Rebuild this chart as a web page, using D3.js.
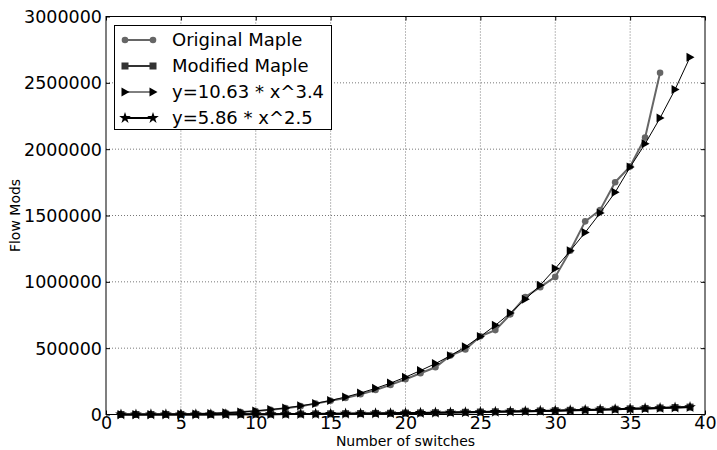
<!DOCTYPE html>
<html>
<head>
<meta charset="utf-8">
<script src="https://cdn.jsdelivr.net/npm/d3@7"></script>
<style>
  html, body { margin: 0; padding: 0; background: #fff; }
  svg { display: block; font-family: "DejaVu Sans", sans-serif; }
</style>
</head>
<body>
<svg id="chart" width="717" height="450"></svg>
<script>
// Number of switches in the topology
const switches = [1, 2, 3, 4, 5, 6, 7, 8, 9, 10, 11, 12, 13, 14, 15, 16, 17, 18, 19, 20,
  21, 22, 23, 24, 25, 26, 27, 28, 29, 30, 31, 32, 33, 34, 35, 36, 37, 38, 39];

// Measured flow mods, original Maple (runs up to 37 switches)
const originalMaple = [0, 100, 400, 1200, 2500, 4700, 7900, 12500, 18000, 26000,
  36000, 48000, 63000, 82000, 104000, 125000, 153000, 185000, 223000, 266000,
  311000, 356000, 445000, 490000, 590000, 636000, 755000, 886000, 960000, 1037000,
  1234000, 1456000, 1542000, 1751000, 1870000, 2087000, 2576000];

// Measured flow mods, modified Maple
const modifiedMaple = [10, 40, 100, 200, 350, 530, 780, 1100, 1450, 1900,
  2400, 2950, 3600, 4350, 5150, 6050, 7050, 8100, 9300, 10550,
  11900, 13400, 14950, 16600, 18400, 20300, 22300, 24400, 26650, 29000,
  31450, 34050, 36750, 39600, 42550, 45650, 48900, 52250, 55750];

// Fitted curve y = 10.63 * x^3.4
const fitCubic = [11, 112, 445, 1185, 2529, 4702, 7943, 12504, 18662, 26701,
  36929, 49633, 65141, 83786, 105950, 131993, 162182, 196942, 236592, 281695,
  331000, 384000, 443000, 510000, 588000, 672000, 765000, 868000, 975000, 1100000,
  1234000, 1372000, 1519000, 1675000, 1865000, 2040000, 2235000, 2450000, 2693000];

// Fitted curve y = 5.86 * x^2.5
const fitSquare = [6, 33, 91, 188, 328, 517, 760, 1061, 1424, 1853,
  2352, 2923, 3571, 4298, 5106, 6001, 6983, 8055, 9221, 10483,
  11843, 13303, 14867, 16536, 18313, 20199, 22198, 24310, 26539, 28887,
  31355, 33945, 36659, 39499, 42469, 45567, 48796, 52164, 55661];

const xTicks = [0, 5, 10, 15, 20, 25, 30, 35, 40];
const yTicks = [0, 500000, 1000000, 1500000, 2000000, 2500000, 3000000];

const seriesNames = ["Original Maple", "Modified Maple", "y=10.63 * x^3.4", "y=5.86 * x^2.5"];

const svg = d3.select("#chart");
const L = 106, R = 705, T = 16.5, B = 414.5;

const x = d3.scaleLinear().domain([0, 40]).range([L, R]);
const y = d3.scaleLinear().domain([0, 3000000]).range([B, T]);

// grid
const grid = svg.append("g").attr("class", "grid");
grid.selectAll("line.gx").data(xTicks.slice(1, -1)).join("line")
  .attr("x1", d => x(d)).attr("x2", d => x(d)).attr("y1", T).attr("y2", B)
  .attr("stroke", "#555").attr("stroke-width", 0.8).attr("stroke-dasharray", "1,2");
grid.selectAll("line.gy").data(yTicks.slice(1, -1)).join("line")
  .attr("x1", L).attr("x2", R).attr("y1", d => y(d)).attr("y2", d => y(d))
  .attr("stroke", "#555").attr("stroke-width", 0.8).attr("stroke-dasharray", "1,2");

// axes: ticks inside, on every side
const fmt = d3.format("d");
const axB = svg.append("g").attr("transform", `translate(0,${B})`)
  .call(d3.axisBottom(x).tickValues(xTicks).tickFormat(fmt).tickSize(-4).tickPadding(2));
const axT = svg.append("g").attr("transform", `translate(0,${T})`)
  .call(d3.axisTop(x).tickValues(xTicks).tickFormat("").tickSize(-4));
const axL = svg.append("g").attr("transform", `translate(${L},0)`)
  .call(d3.axisLeft(y).tickValues(yTicks).tickFormat(fmt).tickSize(-4).tickPadding(4));
const axR = svg.append("g").attr("transform", `translate(${R},0)`)
  .call(d3.axisRight(y).tickValues(yTicks).tickFormat("").tickSize(-4));
[axB, axT, axL, axR].forEach(g => {
  g.select(".domain").remove();
  g.selectAll(".tick line").attr("stroke", "#000");
  g.selectAll("text").attr("font-family", "DejaVu Sans").attr("font-size", 17.5).attr("fill", "#000");
});
axL.selectAll("text").attr("dy", "0.35em");
axB.selectAll("text").attr("dy", "0.71em");

// frame
svg.append("rect").attr("x", L).attr("y", T).attr("width", R - L).attr("height", B - T)
  .attr("fill", "none").attr("stroke", "#000").attr("stroke-width", 1);

// axis titles
svg.append("text").attr("x", (L + R) / 2).attr("y", 446).attr("text-anchor", "middle")
  .attr("font-size", 14).attr("fill", "#000").text("Number of switches");
svg.append("text").attr("transform", `translate(20,${(T + B) / 2}) rotate(-90)`)
  .attr("text-anchor", "middle").attr("font-size", 14).attr("fill", "#000").text("Flow Mods");

// marker shapes
const starPath = d3.symbol().type(d3.symbolStar).size(42)();
const triPath = "M-3.5,-4.5L4.5,0L-3.5,4.5Z";

const styles = [
  { values: originalMaple, color: "#666", width: 2, marker: "circle" },
  { values: modifiedMaple, color: "#333", width: 2, marker: "square" },
  { values: fitCubic, color: "#000", width: 1, marker: "tri" },
  { values: fitSquare, color: "#000", width: 2, marker: "star" }
];

function drawMarker(g, m, color) {
  if (m === "circle") g.append("circle").attr("r", 3.3).attr("fill", color);
  else if (m === "square") g.append("rect").attr("x", -3.5).attr("y", -3.5).attr("width", 7).attr("height", 7).attr("fill", color);
  else if (m === "tri") g.append("path").attr("d", triPath).attr("fill", color);
  else g.append("path").attr("d", starPath).attr("fill", color);
}

const plot = svg.append("g");
styles.forEach(s => {
  const pts = s.values.map((v, i) => [switches[i], v]);
  plot.append("path").datum(pts)
    .attr("d", d3.line().x(d => x(d[0])).y(d => y(d[1])))
    .attr("fill", "none").attr("stroke", s.color).attr("stroke-width", s.width);
  pts.forEach(p => {
    const g = plot.append("g").attr("transform", `translate(${x(p[0])},${y(p[1])})`);
    drawMarker(g, s.marker, s.color);
  });
});

// legend
const lg = svg.append("g");
lg.append("rect").attr("x", 114.5).attr("y", 25.5).attr("width", 217).attr("height", 104)
  .attr("fill", "#fff").attr("stroke", "#000").attr("stroke-width", 1);
styles.forEach((s, i) => {
  const cy = 40 + i * 26;
  lg.append("line").attr("x1", 125).attr("x2", 153).attr("y1", cy).attr("y2", cy)
    .attr("stroke", s.color).attr("stroke-width", s.width);
  [125, 153].forEach(cx => drawMarker(lg.append("g").attr("transform", `translate(${cx},${cy})`), s.marker, s.color));
  lg.append("text").attr("x", 172).attr("y", cy).attr("dy", "0.35em")
    .attr("font-size", 18).attr("fill", "#000").text(seriesNames[i]);
});
</script>
</body>
</html>
